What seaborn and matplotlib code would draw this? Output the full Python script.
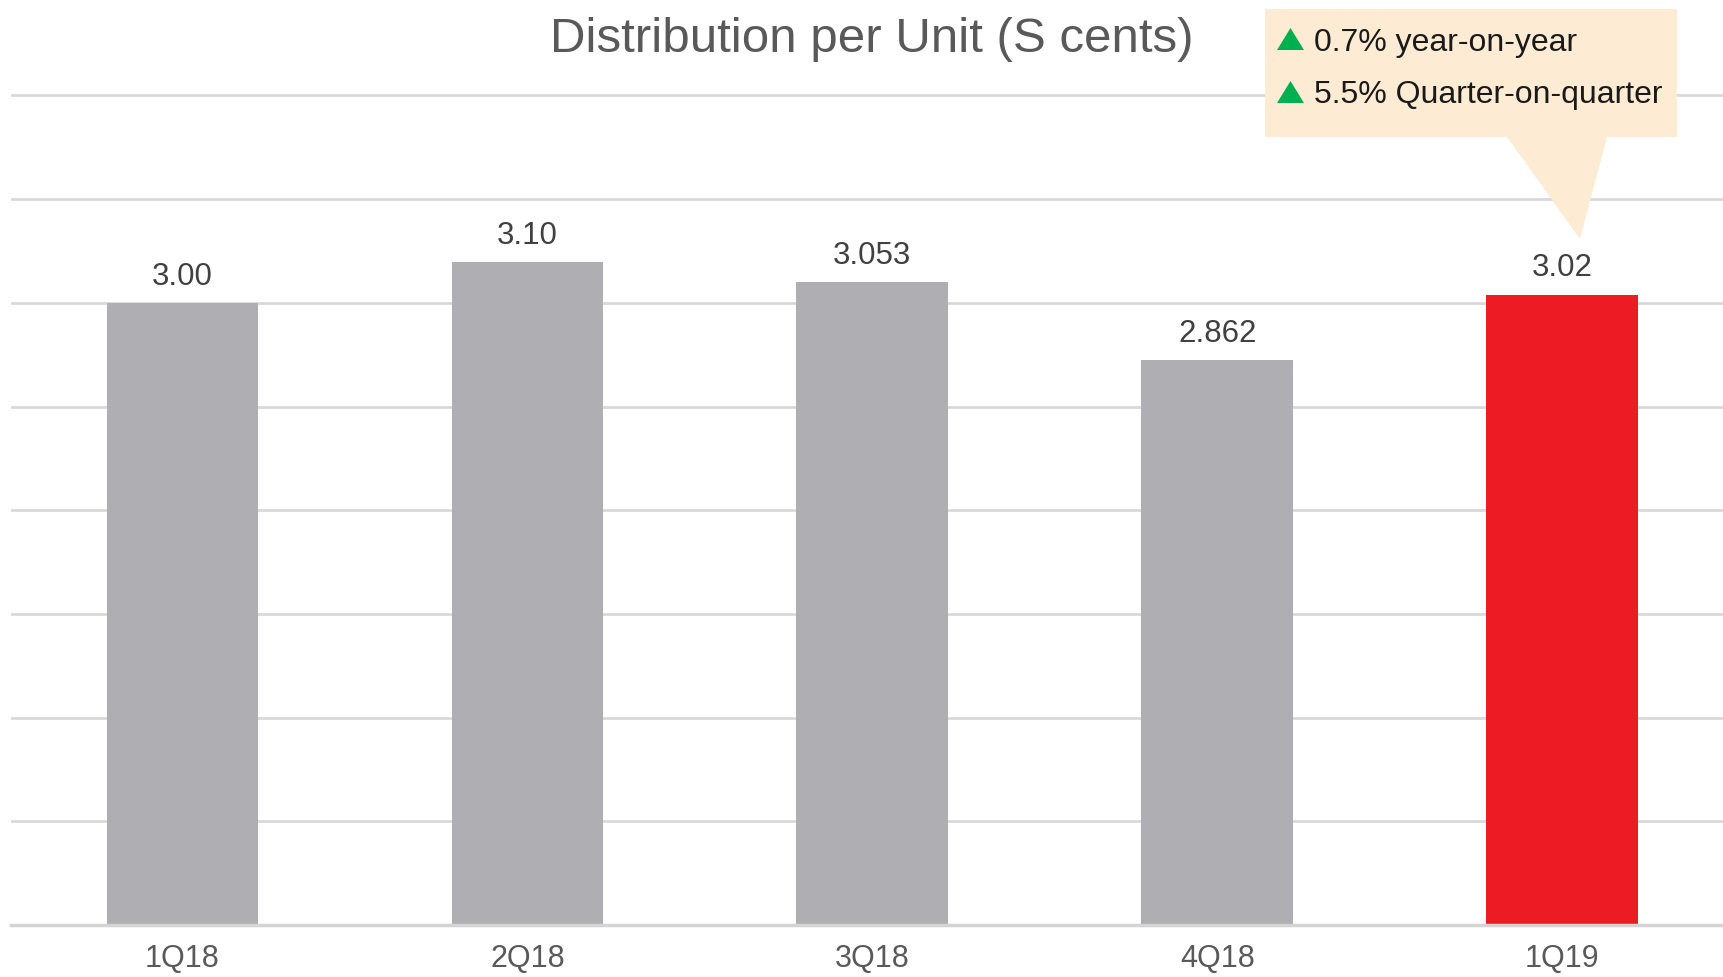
import matplotlib
matplotlib.use("Agg")
import matplotlib.pyplot as plt
import seaborn as sns
from matplotlib.patches import Polygon

# ---- data ----
quarters = ["1Q18", "2Q18", "3Q18", "4Q18", "1Q19"]
bar_heights = [3.00, 3.195, 3.10, 2.722, 3.04]          # heights as drawn
value_labels = ["3.00", "3.10", "3.053", "2.862", "3.02"]  # printed labels
bar_colors = ["#AFAEB3", "#AFAEB3", "#AFAEB3", "#AFAEB3", "#ED1C24"]
title_text = "Distribution per Unit (S cents)"
callout_lines = ["0.7% year-on-year", "5.5% Quarter-on-quarter"]

sns.set_theme(style="white")
plt.rcParams["font.family"] = ["Liberation Sans", "DejaVu Sans"]

W, H = 1723, 977
fig = plt.figure(figsize=(W / 100, H / 100), dpi=100)
ax = fig.add_axes([11 / W, (H - 925) / H, 1 - 11 / W, 925 / H])

sns.barplot(x=quarters, y=bar_heights, hue=quarters, palette=bar_colors,
            legend=False, width=0.44, saturation=1, ax=ax, zorder=3,
            linewidth=0, edgecolor="none")

ax.set_ylim(0, 925 / 207.4)
ax.set_xlim(-0.497, 4.466)
ax.set_yticks([0.5 * i for i in range(1, 9)])
ax.yaxis.grid(True, color="#D9D9D9", linewidth=2, zorder=0)
ax.set_axisbelow(True)
for s in ["top", "right", "left"]:
    ax.spines[s].set_visible(False)
ax.spines["bottom"].set_color("#D4D4D4")
ax.spines["bottom"].set_linewidth(2.5)
ax.spines["bottom"].set_zorder(4)
ax.set_yticklabels([])
ax.tick_params(axis="y", length=0)
ax.tick_params(axis="x", length=0, pad=14, labelsize=22, labelcolor="#595959")
ax.set_xlabel("")
ax.set_ylabel("")

for i, (h, lab) in enumerate(zip(bar_heights, value_labels)):
    ax.annotate(lab, (i, h), xytext=(0, 13), textcoords="offset points",
                ha="center", va="baseline", fontsize=22.5, color="#404040")

fig.text(872 / W, 1 - 39.5 / H, title_text, ha="center", va="center",
         fontsize=35.5, color="#595959")

# callout box with tail
def fp(x, y):
    return (x / W, 1 - y / H)

pts = [fp(1265, 9), fp(1677, 9), fp(1677, 137), fp(1607, 137),
       fp(1580, 239), fp(1507, 137), fp(1265, 137)]
fig.patches.append(Polygon(pts, closed=True, facecolor="#FDEBD3",
                           edgecolor="none", transform=fig.transFigure,
                           figure=fig, zorder=5))

line_y = [40, 93]
for y, txt in zip(line_y, callout_lines):
    tri = [fp(1277, y + 10), fp(1304, y + 10), fp(1290.5, y - 12)]
    fig.patches.append(Polygon(tri, closed=True, facecolor="#00B050",
                               edgecolor="none", transform=fig.transFigure,
                               figure=fig, zorder=6))
    fig.text(1314 / W, 1 - (y + 2.5) / H, txt, ha="left", va="center",
             fontsize=23, color="#1A1A1A", zorder=7)

fig.savefig("out.png", dpi=100)
